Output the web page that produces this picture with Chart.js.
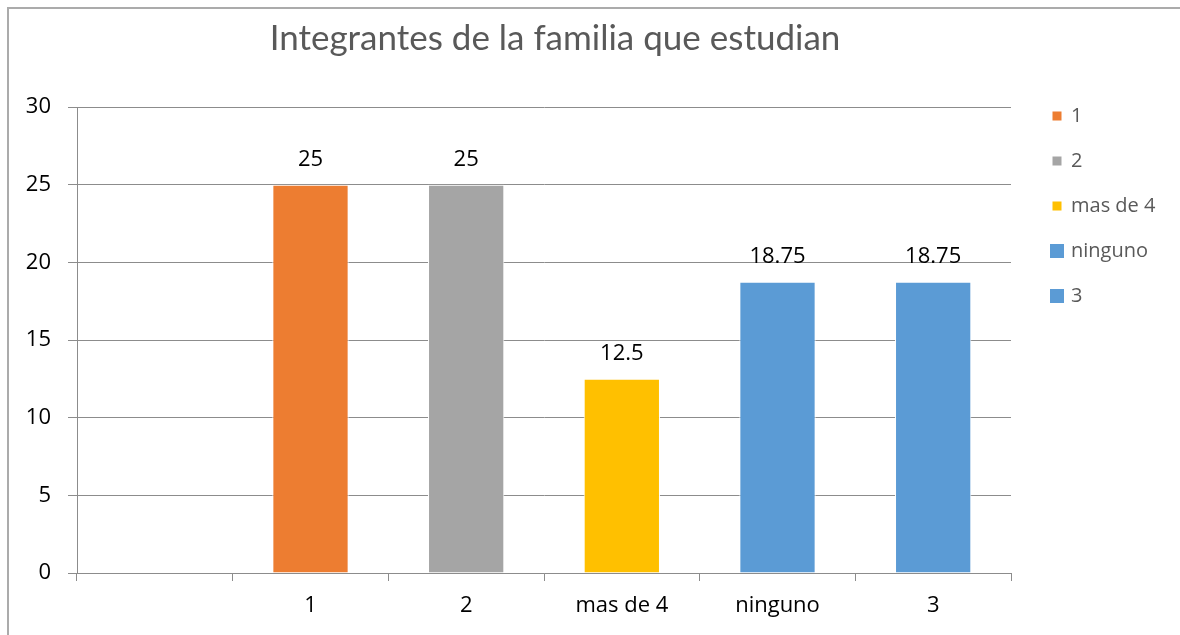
<!DOCTYPE html>
<html>
<head>
<meta charset="utf-8">
<script src="https://cdn.jsdelivr.net/npm/chart.js@4.4.0/dist/chart.umd.min.js"></script>
<style>
  html, body { margin: 0; padding: 0; background: #fff; overflow: hidden; }
  canvas { display: block; }
</style>
</head>
<body>
<canvas id="chart" width="1180" height="635"></canvas>
<script>
const titleText = "Integrantes de la familia que estudian";
const categories = ["", "1", "2", "mas de 4", "ninguno", "3"];
const values = [null, 25, 25, 12.5, 18.75, 18.75];
const barColors = ["#5B9BD5", "#ED7D31", "#A5A5A5", "#FFC000", "#5B9BD5", "#5B9BD5"];
const yTicks = [0, 5, 10, 15, 20, 25, 30];

const FONT = "'Open Sans', 'DejaVu Sans', sans-serif";
const TITLE_FONT = "Lato, 'Open Sans', sans-serif";
const gridColor = "#8c8c8c";

// outer chart frame; only its top and left edges fall inside the picture
const framePlugin = {
  id: "frame",
  beforeDraw(chart) {
    const ctx = chart.ctx;
    ctx.save();
    ctx.fillStyle = "#fff";
    ctx.fillRect(0, 0, chart.width, chart.height);
    ctx.strokeStyle = "#ababab";
    ctx.lineWidth = 2;
    ctx.beginPath();
    ctx.moveTo(8, chart.height);
    ctx.lineTo(8, 8);
    ctx.lineTo(chart.width, 8);
    ctx.stroke();
    ctx.restore();
  }
};

// title drawn over the plot, slightly left of centre like the original
const titlePlugin = {
  id: "titleText",
  afterDraw(chart) {
    const ctx = chart.ctx;
    ctx.save();
    ctx.font = "35px " + TITLE_FONT;
    ctx.fillStyle = "#595959";
    ctx.textAlign = "center";
    ctx.textBaseline = "middle";
    ctx.fillText(titleText, 555, 39);
    ctx.restore();
  }
};

// numbers above each bar
const valueLabels = {
  id: "valueLabels",
  afterDatasetsDraw(chart) {
    const ctx = chart.ctx;
    const meta = chart.getDatasetMeta(0);
    const data = chart.data.datasets[0].data;
    ctx.save();
    ctx.font = "22px " + FONT;
    ctx.fillStyle = "#000";
    ctx.textAlign = "center";
    ctx.textBaseline = "middle";
    meta.data.forEach((bar, i) => {
      if (data[i] == null) return;
      ctx.fillText(String(data[i]), bar.x, bar.y - 25);
    });
    ctx.restore();
  }
};

// legend on the right, one entry per non-empty category
const sideLegend = {
  id: "sideLegend",
  afterDraw(chart) {
    const ctx = chart.ctx;
    const boxSizes = [9, 9, 9, 14, 14];
    const left = chart.chartArea.right + 46;
    ctx.save();
    ctx.font = "20px " + FONT;
    ctx.textBaseline = "middle";
    ctx.textAlign = "left";
    let n = 0;
    chart.data.labels.forEach((lab, i) => {
      if (!lab) return;
      const cy = 116 + n * 45;
      const s = boxSizes[n];
      ctx.fillStyle = chart.data.datasets[0].backgroundColor[i];
      ctx.fillRect(left - s / 2, cy - s / 2, s, s);
      ctx.fillStyle = "#595959";
      ctx.fillText(lab, left + 14, cy);
      n++;
    });
    ctx.restore();
  }
};

new Chart(document.getElementById("chart").getContext("2d"), {
  type: "bar",
  data: {
    labels: categories,
    datasets: [{
      data: values,
      backgroundColor: barColors,
      borderColor: "#ffffff",
      borderWidth: 1,
      categoryPercentage: 1,
      barPercentage: 0.49
    }]
  },
  options: {
    responsive: false,
    animation: false,
    devicePixelRatio: 1,
    layout: { padding: { left: 0, top: 107, right: 169, bottom: 0 } },
    plugins: {
      legend: { display: false },
      title: { display: false },
      tooltip: { enabled: false }
    },
    scales: {
      x: {
        offset: true,
        afterFit(scale) { scale.height = 62; },
        grid: {
          offset: true,
          drawOnChartArea: false,
          drawTicks: true,
          tickLength: 8,
          color: gridColor
        },
        border: { display: true, color: gridColor },
        ticks: {
          color: "#000",
          font: { family: FONT, size: 22 },
          padding: 12,
          maxRotation: 0,
          autoSkip: false
        }
      },
      y: {
        min: 0,
        max: 30,
        afterFit(scale) { scale.width = 77; },
        afterBuildTicks(scale) { scale.ticks = yTicks.map(v => ({ value: v })); },
        grid: {
          color: gridColor,
          tickLength: 9,
          drawTicks: true
        },
        border: { display: true, color: gridColor },
        ticks: {
          color: "#000",
          font: { family: FONT, size: 22 },
          padding: 17
        }
      }
    }
  },
  plugins: [framePlugin, titlePlugin, valueLabels, sideLegend]
});
</script>
</body>
</html>
